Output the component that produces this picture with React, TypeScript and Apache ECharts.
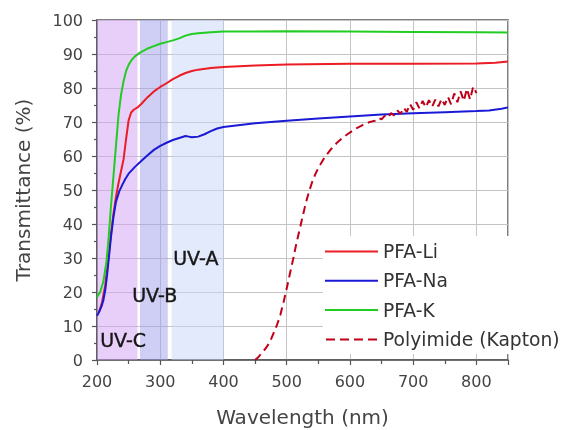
import React, { useEffect, useRef } from 'react';
import * as echarts from 'echarts';

// ---- data ----
const seriesNames = ['PFA-Li', 'PFA-Na', 'PFA-K', 'Polyimide (Kapton)'];

const liWl = [203, 208, 213, 218, 222, 226, 230, 234, 238, 242, 246, 250, 254, 258, 265, 270, 280, 290, 300, 310, 320, 330, 340, 350, 360, 380, 400, 450, 500, 600, 700, 800, 830, 850];
const liT = [14, 17, 22, 30, 37, 43, 48, 52, 55.5, 59, 65, 70.5, 72.8, 73.6, 74.4, 75.3, 77.3, 79, 80.3, 81.4, 82.6, 83.6, 84.4, 85, 85.4, 85.9, 86.2, 86.6, 86.9, 87.1, 87.1, 87.2, 87.4, 87.8];

const naWl = [200, 203, 207, 210, 213, 216, 219, 222, 226, 230, 235, 240, 245, 250, 260, 270, 280, 290, 300, 310, 320, 330, 340, 345, 350, 360, 370, 380, 390, 400, 420, 450, 500, 550, 600, 650, 700, 750, 800, 820, 840, 850];
const naT = [13, 14, 15.7, 17.5, 20.5, 25, 30.5, 36, 42, 46.5, 49.5, 51.5, 53.3, 54.8, 56.8, 58.5, 60.2, 61.8, 63, 63.9, 64.7, 65.3, 65.9, 65.7, 65.5, 65.7, 66.4, 67.3, 68.1, 68.5, 69, 69.6, 70.4, 71, 71.6, 72.2, 72.6, 72.9, 73.2, 73.4, 73.9, 74.3];

const kWl = [200, 205, 210, 215, 218, 222, 226, 230, 234, 238, 242, 246, 250, 255, 260, 268, 280, 290, 300, 310, 320, 330, 340, 350, 360, 380, 400, 500, 600, 700, 800, 850];
const kT = [18.5, 20, 23, 29, 35, 45, 54, 63, 72, 78, 82, 85, 86.8, 88.3, 89.3, 90.4, 91.6, 92.3, 93, 93.5, 94, 94.6, 95.4, 95.9, 96.1, 96.4, 96.6, 96.7, 96.6, 96.5, 96.4, 96.3];

const kaptonWl = [450, 455, 460, 465, 470, 475, 480, 485, 490, 495, 500, 505, 510, 515, 520, 525, 530, 535, 540, 545, 550, 560, 570, 580, 590, 600, 610, 620, 630, 640, 645, 650, 655, 660, 665, 670, 675, 680, 685, 690, 695, 700, 705, 710, 715, 720, 725, 730, 735, 740, 745, 750, 755, 760, 765, 770, 775, 780, 785, 790, 795, 800];
const kaptonT = [0, 0.8, 2, 3, 4.3, 6, 8.2, 10.5, 13.3, 17, 21, 25.3, 29.5, 34, 38, 42, 46, 49.3, 52.2, 54.5, 56.5, 59.6, 62, 64, 65.6, 66.9, 68.1, 69.1, 69.9, 70.4, 71.2, 70.8, 71.8, 71.2, 72.6, 71.9, 73.4, 72.4, 74.2, 73, 75.3, 73.6, 75.8, 74, 76.2, 74.3, 76.4, 74.5, 76.6, 74.6, 76.8, 75, 77.4, 75.2, 78.4, 75.8, 79, 76.2, 79.8, 76.6, 80.4, 78.5];

// UV bands: [start, end, label]
const bandStarts = [200, 268, 318];
const bandEnds = [264, 312, 400];
const bandLabels = ['UV-C', 'UV-B', 'UV-A'];

const xMin = 200, xMax = 850, xStep = 100;
const yMin = 0, yMax = 100, yStep = 10;

const colors = ['#ec1c24', '#1a1ad6', '#22cc22', '#c00018'];
const bandColors = ['rgba(210,160,245,0.5)', 'rgba(160,160,235,0.5)', 'rgba(200,213,248,0.5)'];

const solidIcon = 'path://M0,0H53V2H0Z';
const dashIcon = 'path://M0,0H9V2H0Z M14,0H23V2H14Z M28,0H37V2H28Z M42,0H51V2H42Z';

const pair = (xs: number[], ys: number[]) => xs.map((x, i) => [x, ys[i]]);

export default function App() {
  const ref = useRef<HTMLDivElement>(null);
  useEffect(() => {
    const chart = echarts.init(ref.current!, null, { renderer: 'svg' });
    const font = 'DejaVu Sans';
    const lineSeries = (name: string, data: number[][], color: string, extra: any = {}) => ({
      name,
      type: 'line',
      data,
      symbol: 'none',
      smooth: false,
      lineStyle: { color, width: 2, ...(extra.lineStyle || {}) },
      itemStyle: { color },
      z: 3,
      ...(extra.rest || {}),
    });
    const uvText = (text: string, left: number, top: number) => ({
      type: 'text', left, top, z: 10,
      style: { text, font: '19px "DejaVu Sans"', fill: '#161616', stroke: '#161616', lineWidth: 0.4 },
    });
    chart.setOption({
      animation: false,
      grid: {
        left: 97, right: 54, top: 20, bottom: 70,
        outerBoundsMode: 'none', containLabel: false,
        show: true, borderColor: '#555', borderWidth: 1.5, backgroundColor: 'transparent',
      },
      xAxis: {
        type: 'value', min: xMin, max: xMax, interval: xStep,
        name: 'Wavelength (nm)', nameLocation: 'middle', nameGap: 47,
        nameTextStyle: { fontFamily: font, fontSize: 20, color: '#444' },
        axisLine: { show: true, lineStyle: { color: '#555', width: 1.5 } },
        axisTick: { show: true, length: 5, lineStyle: { color: '#555', width: 1.2 } },
        minorTick: { show: true, splitNumber: 2, length: 4, lineStyle: { color: '#555', width: 1.2 } },
        axisLabel: { fontFamily: font, fontSize: 16, color: '#444', margin: 13, showMaxLabel: false },
        splitLine: { show: true, lineStyle: { color: '#c4c4c4', width: 1 } },
      },
      yAxis: {
        type: 'value', min: yMin, max: yMax, interval: yStep,
        name: 'Transmittance (%)', nameLocation: 'middle', nameGap: 64, nameRotate: 90,
        nameTextStyle: { fontFamily: font, fontSize: 20, color: '#444' },
        axisLine: { show: true, lineStyle: { color: '#555', width: 1.5 } },
        axisTick: { show: true, length: 5, lineStyle: { color: '#555', width: 1.2 } },
        minorTick: { show: true, splitNumber: 2, length: 3, lineStyle: { color: '#555', width: 1.2 } },
        axisLabel: { fontFamily: font, fontSize: 16, color: '#444', margin: 14 },
        splitLine: { show: true, lineStyle: { color: '#c4c4c4', width: 1 } },
      },
      legend: {
        data: seriesNames.map((name, i) => ({
          name,
          icon: i === 3 ? dashIcon : solidIcon,
          itemStyle: { color: colors[i] },
        })),
        orient: 'vertical',
        left: 323, top: 236,
        padding: [6, 4, 5, 2],
        backgroundColor: '#ffffff',
        itemWidth: 53, itemHeight: 2, itemGap: 10.3,
        textStyle: { fontFamily: font, fontSize: 18.7, color: '#333', lineHeight: 18 },
      },
      graphic: [
        uvText(bandLabels[0], 100, 330),
        uvText(bandLabels[1], 132, 285),
        uvText(bandLabels[2], 173, 248),
      ],
      series: [
        lineSeries(seriesNames[0], pair(liWl, liT), colors[0]),
        lineSeries(seriesNames[1], pair(naWl, naT), colors[1]),
        lineSeries(seriesNames[2], pair(kWl, kT), colors[2]),
        lineSeries(seriesNames[3], pair(kaptonWl, kaptonT), colors[3], {
          lineStyle: { type: [8, 5], width: 2 },
          rest: {
            markArea: {
              silent: true,
              label: { show: false },
              data: bandStarts.map((s, i) => [
                { xAxis: s, itemStyle: { color: bandColors[i] } },
                { xAxis: bandEnds[i] },
              ]),
            },
          },
        }),
      ],
    });
    return () => chart.dispose();
  }, []);
  return <div ref={ref} style={{ position: 'fixed', left: 0, top: 0, width: 562, height: 430 }} />;
}
